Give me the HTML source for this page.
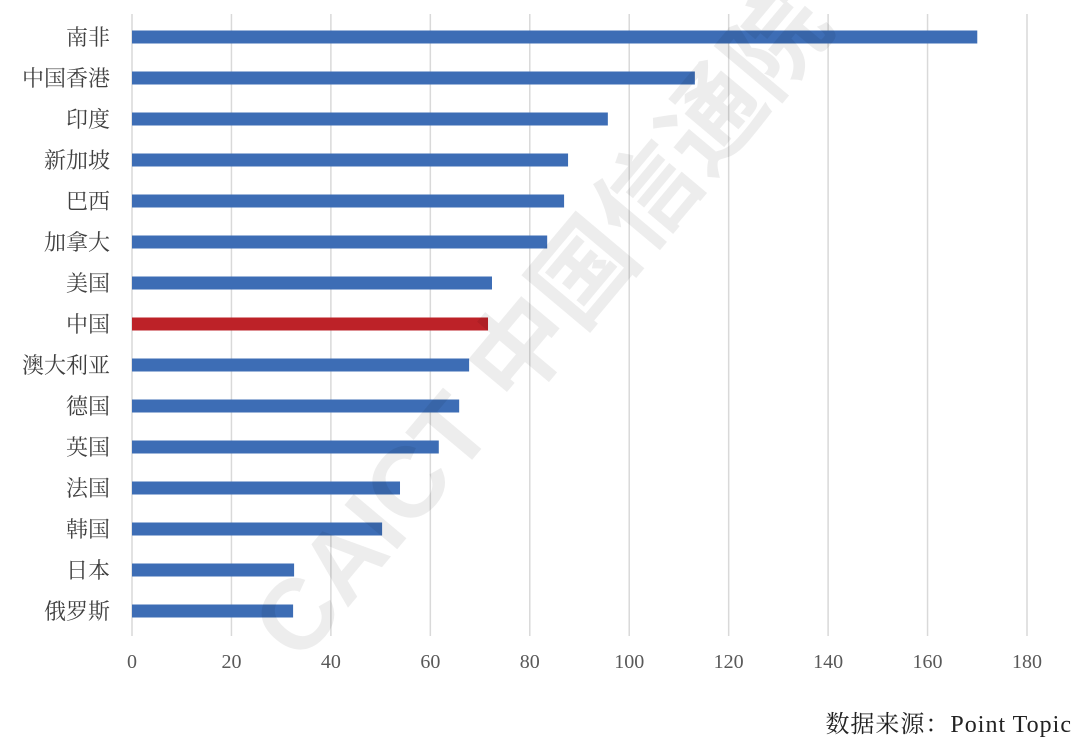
<!DOCTYPE html>
<html><head><meta charset="utf-8">
<style>
html,body{margin:0;padding:0;background:#fff;}
body{width:1080px;height:744px;overflow:hidden;font-family:"Liberation Serif","Noto Serif CJK SC","Noto Sans CJK SC",serif;}
</style></head>
<body>
<svg id="chart" width="1080" height="744" xmlns="http://www.w3.org/2000/svg"></svg>
<script>
const categories=["南非","中国香港","印度","新加坡","巴西","加拿大","美国","中国","澳大利亚","德国","英国","法国","韩国","日本","俄罗斯"];
const values=[170,113.2,95.7,87.7,86.9,83.5,72.4,71.6,67.8,65.8,61.7,53.9,50.3,32.6,32.4];
const highlight=["中国"];
const ticks=[0,20,40,60,80,100,120,140,160,180];
const svg=document.getElementById('chart');
const NS="http://www.w3.org/2000/svg";
const x0=132,x1=1027,xmax=180;
const xs=v=>x0+(x1-x0)*v/xmax;
const yTop=16,step=41;
const yc=i=>yTop+step*i+21;
function mk(t,a){const e=document.createElementNS(NS,t);for(const k in a)e.setAttribute(k,a[k]);svg.appendChild(e);return e;}
ticks.forEach((t,i)=>{
  const g=mk('line',{x1:xs(t),x2:xs(t),y1:14,y2:636,stroke:'#d9d9d9','stroke-width':1.5});
  
  
  const l=mk('text',{x:xs(t),y:668,'text-anchor':'middle','font-size':20,fill:'#595959'});
  l.textContent=t;
  
  
});
categories.forEach((c,i)=>{
  const r=mk('rect',{x:x0,y:yc(i)-6.5,width:xs(values[i])-x0,height:13,fill:highlight.includes(c)?'#bd2228':'#3d6db5'});
  
  
  const l=mk('text',{x:110,y:yc(i)+8,'text-anchor':'end','font-size':22,fill:'#404040'});
  l.textContent=c;
  
  
});
const wm=mk('text',{x:0,y:0,'font-size':100,'font-weight':'bold',fill:'#000','fill-opacity':0.07,transform:'translate(300,665) rotate(-50)','font-family':'"Liberation Sans","Noto Sans CJK SC",sans-serif'});
wm.textContent='CAICT 中国信通院';


const s=mk('text',{x:1072,y:732,'text-anchor':'end','font-size':24,fill:'#222','letter-spacing':'1'});
s.textContent='数据来源：Point  Topic';


</script>
</body></html>
